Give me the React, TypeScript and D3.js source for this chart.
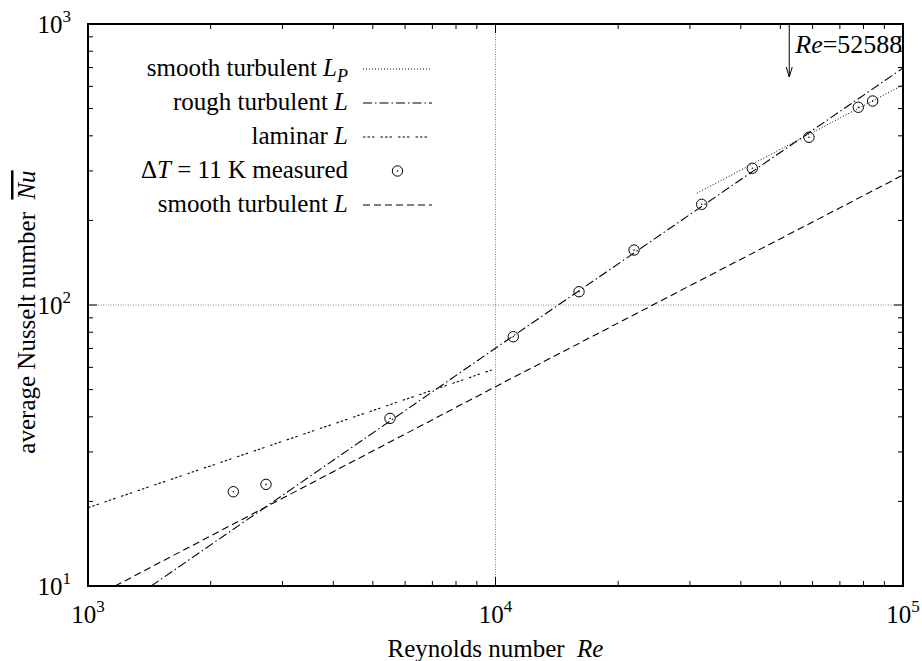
import React from "react";
import * as d3 from "d3";

// Measured points (ΔT = 11 K)
const reMeasured = [2273, 2734, 5509, 11056, 16030, 21880, 32060, 42670, 58790, 77670, 84240];
const nuMeasured = [21.65, 23.0, 39.5, 77.1, 111.5, 156.9, 228.2, 306.6, 395.3, 505.4, 532];

// Correlation curves
const smoothTurbRe = [1165, 10000, 100000];
const smoothTurbNu = [10, 51.2, 290];
const roughTurbRe = [1429, 10000, 100000];
const roughTurbNu = [10, 70.2, 697];
const laminarRe = [1000, 9786];
const laminarNu = [19.0, 58.7];
const smoothTurbPRe = [31200, 100000];
const smoothTurbPNu = [250, 607];

const markerRe = 52588;

const xDecades = [3, 4, 5];
const yDecades = [1, 2, 3];
const minorMultipliers = [2, 3, 4, 5, 6, 7, 8, 9];

const W = 922;
const H = 661;
const L = 88, R = 903, T = 24, B = 586;
const FONT = "'Liberation Serif', 'Times New Roman', serif";
const FS = 25;

const x = d3.scaleLog().domain([1e3, 1e5]).range([L, R]);
const y = d3.scaleLog().domain([10, 1e3]).range([B, T]);

const line = d3
  .line<[number, number]>()
  .x((d) => x(d[0]))
  .y((d) => y(d[1]));

const zip = (a: number[], b: number[]): [number, number][] => a.map((v, i) => [v, b[i]]);

const styles = {
  lp: { dash: "1,2", width: 1 },
  rough: { dash: "9,3,1.5,3", width: 1.1 },
  laminar: { dash: "2.5,2,2.5,2,2.5,6", width: 1.1 },
  smooth: { dash: "7,4", width: 1.1 },
};

function Marker({ cx, cy }: { cx: number; cy: number }) {
  return (
    <g>
      <circle cx={cx} cy={cy} r={5.2} fill="none" stroke="#000" strokeWidth={1} />
      <circle cx={cx} cy={cy} r={0.8} fill="#000" />
    </g>
  );
}

function Pow10({ x0, y0, exp, anchor }: { x0: number; y0: number; exp: number; anchor: "middle" | "end" }) {
  return (
    <text x={x0} y={y0} fontFamily={FONT} fontSize={FS} textAnchor={anchor} fill="#000">
      10
      <tspan fontSize={17} dy={-11}>
        {exp}
      </tspan>
    </text>
  );
}

export default function App() {
  const xMajor = xDecades.map((e) => Math.pow(10, e));
  const yMajor = yDecades.map((e) => Math.pow(10, e));
  const xMinor = xDecades.slice(0, -1).flatMap((e) => minorMultipliers.map((m) => m * Math.pow(10, e)));
  const yMinor = yDecades.slice(0, -1).flatMap((e) => minorMultipliers.map((m) => m * Math.pow(10, e)));

  const legendRows = ["lp", "rough", "laminar", "meas", "smooth"];
  const legendTop = 69;
  const legendStep = 34;
  const legendTextX = 348;
  const sampleX0 = 363;
  const sampleX1 = 432;

  const legendLabel = (k: string) => {
    switch (k) {
      case "lp":
        return (
          <>
            smooth turbulent <tspan fontStyle="italic">L</tspan>
            <tspan fontStyle="italic" fontSize={18} dy={6}>
              P
            </tspan>
          </>
        );
      case "rough":
        return (
          <>
            rough turbulent <tspan fontStyle="italic">L</tspan>
          </>
        );
      case "laminar":
        return (
          <>
            laminar <tspan fontStyle="italic">L</tspan>
          </>
        );
      case "meas":
        return (
          <>
            Δ<tspan fontStyle="italic">T</tspan> = 11 K measured
          </>
        );
      default:
        return (
          <>
            smooth turbulent <tspan fontStyle="italic">L</tspan>
          </>
        );
    }
  };

  const ax = x(markerRe);

  return (
    <svg
      width={W}
      height={H}
      style={{ position: "absolute", left: 0, top: 0, background: "#fff" }}
      xmlns="http://www.w3.org/2000/svg"
    >
      <rect x={0} y={0} width={W} height={H} fill="#fff" />
      <defs>
        <clipPath id="plot-area">
          <rect x={L} y={T} width={R - L} height={B - T} />
        </clipPath>
      </defs>

      {/* grid lines at the middle decades */}
      <line x1={x(1e4)} x2={x(1e4)} y1={T} y2={B} stroke="#888" strokeWidth={1} strokeDasharray="1,1.5" />
      <line x1={L} x2={R} y1={y(100)} y2={y(100)} stroke="#888" strokeWidth={1} strokeDasharray="1,1.5" />

      {/* ticks on all four sides */}
      {xMajor.map((v) => (
        <g key={"xM" + v}>
          <line x1={x(v)} x2={x(v)} y1={B} y2={B - 9} stroke="#000" strokeWidth={1} />
          <line x1={x(v)} x2={x(v)} y1={T} y2={T + 9} stroke="#000" strokeWidth={1} />
        </g>
      ))}
      {xMinor.map((v) => (
        <g key={"xm" + v}>
          <line x1={x(v)} x2={x(v)} y1={B} y2={B - 5} stroke="#000" strokeWidth={1} />
          <line x1={x(v)} x2={x(v)} y1={T} y2={T + 5} stroke="#000" strokeWidth={1} />
        </g>
      ))}
      {yMajor.map((v) => (
        <g key={"yM" + v}>
          <line x1={L} x2={L + 9} y1={y(v)} y2={y(v)} stroke="#000" strokeWidth={1} />
          <line x1={R} x2={R - 9} y1={y(v)} y2={y(v)} stroke="#000" strokeWidth={1} />
        </g>
      ))}
      {yMinor.map((v) => (
        <g key={"ym" + v}>
          <line x1={L} x2={L + 5} y1={y(v)} y2={y(v)} stroke="#000" strokeWidth={1} />
          <line x1={R} x2={R - 5} y1={y(v)} y2={y(v)} stroke="#000" strokeWidth={1} />
        </g>
      ))}

      {/* tick labels */}
      {xDecades.map((e) => (
        <Pow10 key={"xl" + e} x0={x(Math.pow(10, e))} y0={623} exp={e} anchor="middle" />
      ))}
      {yDecades.map((e) => (
        <Pow10 key={"yl" + e} x0={71} y0={y(Math.pow(10, e)) + 9} exp={e} anchor="end" />
      ))}

      {/* curves */}
      <g clipPath="url(#plot-area)" fill="none" stroke="#000">
        <path d={line(zip(smoothTurbRe, smoothTurbNu)) || ""} strokeDasharray={styles.smooth.dash} strokeWidth={styles.smooth.width} />
        <path d={line(zip(roughTurbRe, roughTurbNu)) || ""} strokeDasharray={styles.rough.dash} strokeWidth={styles.rough.width} />
        <path d={line(zip(laminarRe, laminarNu)) || ""} strokeDasharray={styles.laminar.dash} strokeWidth={styles.laminar.width} />
        <path d={line(zip(smoothTurbPRe, smoothTurbPNu)) || ""} strokeDasharray={styles.lp.dash} strokeWidth={styles.lp.width} />
      </g>

      {/* measured points */}
      {reMeasured.map((re, i) => (
        <Marker key={"p" + i} cx={x(re)} cy={y(nuMeasured[i])} />
      ))}

      {/* critical Reynolds number marker */}
      <line x1={ax} x2={ax} y1={T} y2={T + 53} stroke="#000" strokeWidth={1} />
      <path d={`M${ax - 3},${T + 43} L${ax},${T + 53} L${ax + 3},${T + 43}`} fill="none" stroke="#000" strokeWidth={1} />
      <text x={ax + 6} y={53} fontFamily={FONT} fontSize={26} fill="#000">
        <tspan fontStyle="italic">Re</tspan>=52588
      </text>

      {/* legend */}
      {legendRows.map((key, i) => {
        const ly = legendTop + i * legendStep;
        const st = (styles as any)[key];
        return (
          <g key={key}>
            <text x={legendTextX} y={ly + 7} fontFamily={FONT} fontSize={FS} textAnchor="end" fill="#000">
              {legendLabel(key)}
            </text>
            {key === "meas" ? (
              <Marker cx={(sampleX0 + sampleX1) / 2} cy={ly} />
            ) : (
              <line
                x1={sampleX0}
                x2={sampleX1}
                y1={ly}
                y2={ly}
                stroke="#000"
                strokeWidth={st.width}
                strokeDasharray={st.dash}
              />
            )}
          </g>
        );
      })}

      {/* frame */}
      <rect x={L} y={T} width={R - L} height={B - T} fill="none" stroke="#000" strokeWidth={2} />

      {/* axis titles */}
      <text
        x={(L + R) / 2}
        y={657}
        fontFamily={FONT}
        fontSize={FS}
        textAnchor="middle"
        fill="#000"
        style={{ whiteSpace: "pre" }}
      >
        {"Reynolds number  "}
        <tspan fontStyle="italic">Re</tspan>
      </text>
      <text
        transform={`translate(35, 312) rotate(-90)`}
        fontFamily={FONT}
        fontSize={FS}
        textAnchor="middle"
        fill="#000"
        style={{ whiteSpace: "pre" }}
      >
        {"average Nusselt number  "}
        <tspan fontStyle="italic" style={{ textDecoration: "overline" }}>
          Nu
        </tspan>
      </text>
    </svg>
  );
}
